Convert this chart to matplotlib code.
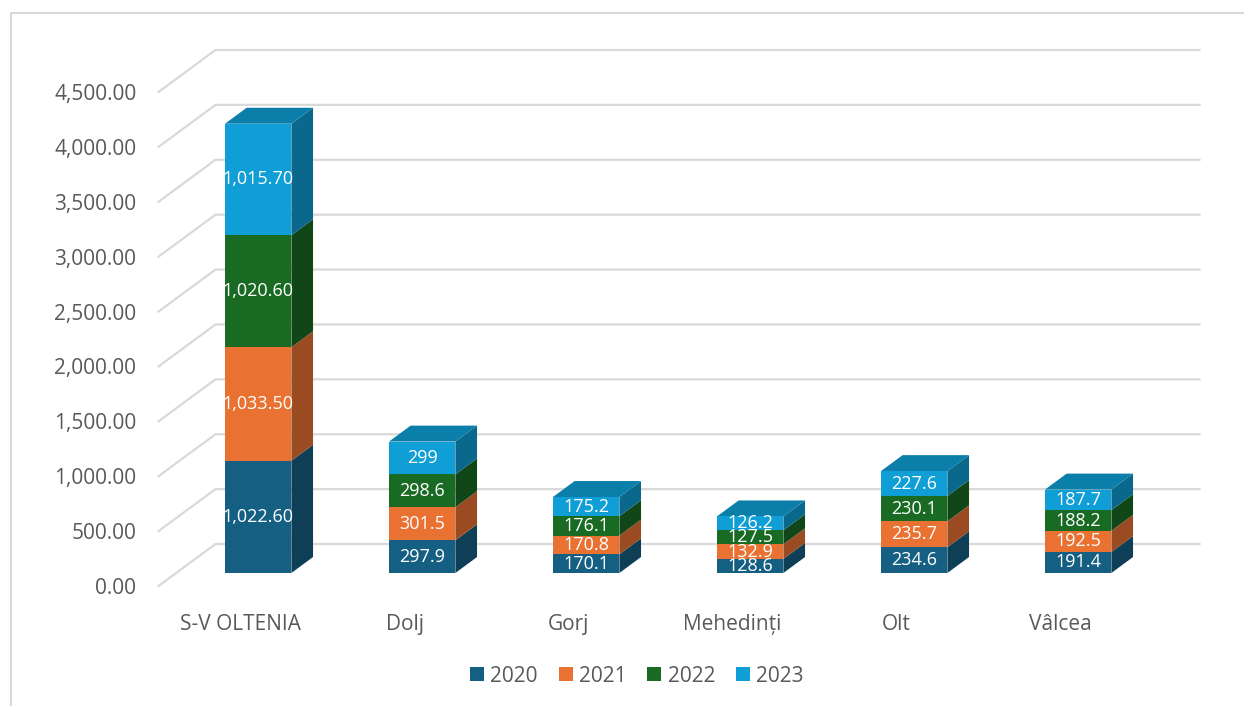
import numpy as np
import matplotlib
matplotlib.use("Agg")
import matplotlib.pyplot as plt
from matplotlib.patches import Polygon, Patch
from matplotlib.lines import Line2D
from matplotlib.transforms import IdentityTransform
import matplotlib.colors as mcolors

# data
categories = ['S-V OLTENIA', 'Dolj', 'Gorj', 'Mehedinți', 'Olt', 'Vâlcea']
years = ['2020', '2021', '2022', '2023']
v2020 = [1022.6, 297.9, 170.1, 128.6, 234.6, 191.4]
v2021 = [1033.5, 301.5, 170.8, 132.9, 235.7, 192.5]
v2022 = [1020.6, 298.6, 176.1, 127.5, 230.1, 188.2]
v2023 = [1015.7, 299.0, 175.2, 126.2, 227.6, 187.7]
yticks = np.arange(0, 4501, 500)

series = [v2020, v2021, v2022, v2023]
colors = ['#156082', '#E97132', '#196B24', '#0F9ED5']

plt.rcParams['font.family'] = ['Open Sans', 'DejaVu Sans']

W, H = 1244, 706
fig = plt.figure(figsize=(W / 100, H / 100), dpi=100)
ax = fig.add_axes([158.5 / W, (H - 586) / H, 984 / W, 494 / H])
ax.set_xlim(-0.5, 5.5)
ax.set_ylim(0, 4500)
ax.patch.set_visible(False)
for s in ax.spines.values():
    s.set_visible(False)

ax.set_yticks(yticks)
ax.set_yticklabels([f"{t:,.2f}" for t in yticks], fontsize=15, color='#595959')
ax.set_xticks(range(len(categories)))
ax.set_xticklabels(categories, fontsize=15, color='#595959')
ax.tick_params(axis='y', length=0, pad=16)
ax.tick_params(axis='x', length=0, pad=20)

# depth of the 3D box (pixels, right and up)
depth = np.array([57.0, 42.0])
d_front, d_back = 0.31, 0.69
bar_w = 0.405


def proj(x, v, d):
    p = ax.transData.transform((x, v))
    return p + d * depth


def shade(c, f):
    r, g, b = mcolors.to_rgb(c)
    return (r * f, g * f, b * f)


# gridlines: diagonal on the floor-side, then horizontal on the back wall
grid_c = '#D9D9D9'
for t in yticks:
    a = proj(-0.5, t, 0)
    b = proj(-0.5, t, 1)
    c = proj(5.5, t, 1)
    ax.add_line(Line2D([a[0], b[0], c[0]], [a[1], b[1], c[1]], color=grid_c,
                       lw=1.6, transform=IdentityTransform(), clip_on=False, zorder=1))

# stacked 3D bars
for i in range(len(categories)):
    x0, x1 = i - bar_w / 2, i + bar_w / 2
    bottom = 0.0
    for k, vals in enumerate(series):
        v = vals[i]
        top = bottom + v
        col = colors[k]
        front = [proj(x0, bottom, d_front), proj(x1, bottom, d_front),
                 proj(x1, top, d_front), proj(x0, top, d_front)]
        side = [proj(x1, bottom, d_front), proj(x1, bottom, d_back),
                proj(x1, top, d_back), proj(x1, top, d_front)]
        ax.add_patch(Polygon(side, closed=True, fc=shade(col, 0.66), ec='none',
                             transform=IdentityTransform(), clip_on=False, zorder=3))
        ax.add_patch(Polygon(front, closed=True, fc=col, ec='none',
                             transform=IdentityTransform(), clip_on=False, zorder=4))
        if k == len(series) - 1:
            lid = [proj(x0, top, d_front), proj(x1, top, d_front),
                   proj(x1, top, d_back), proj(x0, top, d_back)]
            ax.add_patch(Polygon(lid, closed=True, fc=shade(col, 0.8), ec='none',
                                 transform=IdentityTransform(), clip_on=False, zorder=3))
        # data label in the middle of the front face
        cx, cy = proj(i, bottom + v / 2, d_front)
        txt = f"{v:,.2f}" if i == 0 else f"{v:g}"
        ax.text(cx, cy, txt, transform=IdentityTransform(), ha='center', va='center',
                fontsize=13, color='white', zorder=6)
        bottom = top

# legend
handles = [Patch(facecolor=c, edgecolor='none', label=y) for c, y in zip(colors, years)]
fig.legend(handles=handles, loc='center', bbox_to_anchor=(637 / W, 1 - 676 / H), ncol=4,
           frameon=False, fontsize=15, handlelength=0.67, handleheight=0.67,
           handletextpad=0.3, columnspacing=1.0, labelcolor='#595959')

# chart border
fig.add_artist(Line2D([10.5, 10.5, W], [0, H - 13, H - 13], color='#D9D9D9', lw=1.5,
                      transform=IdentityTransform()))

fig.savefig('out.png', dpi=100)
